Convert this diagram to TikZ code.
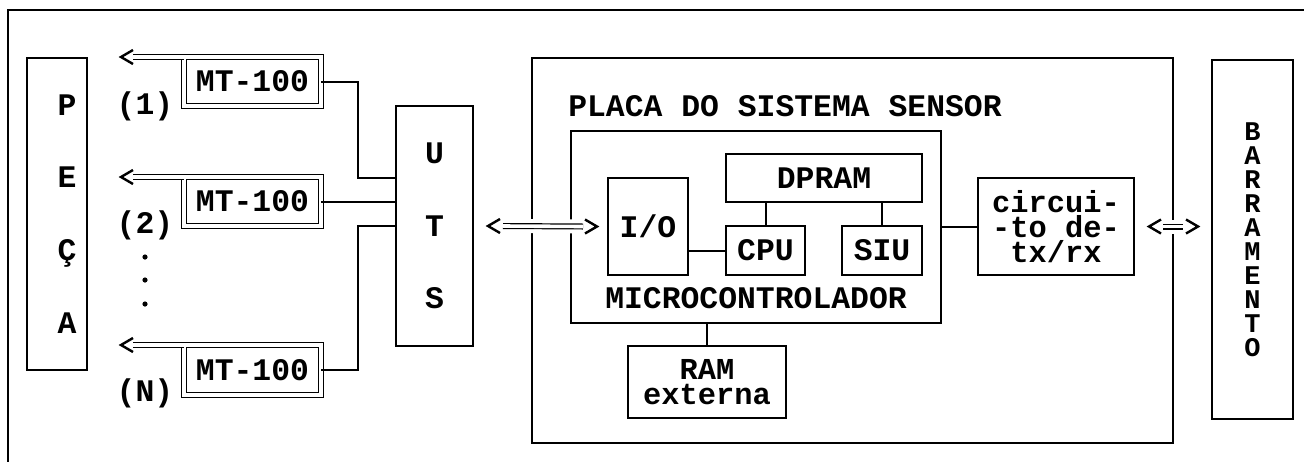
\documentclass[tikz,border=0pt]{standalone}
\usepackage{fontspec}
\setmonofont{Liberation Mono}
\usetikzlibrary{positioning, calc}

\begin{document}
\begin{tikzpicture}[
    x=0.5pt, y=-0.5pt,
    line width=1pt,
    every node/.style={font=\ttfamily\bfseries\fontsize{15.7}{12}\selectfont, inner sep=0pt, outer sep=0pt},
    block/.style={draw, line width=1pt, align=center},
    mtbox/.style={draw, double, double distance=1.8pt, line width=0.6pt, minimum width=68.5pt, minimum height=24.5pt},
    spaced/.style={align=center, font=\ttfamily\bfseries\fontsize{15.7}{36.4}\selectfont},
    narrow/.style={font=\ttfamily\bfseries\fontsize{13.5}{12}\selectfont},
    tight/.style={font=\ttfamily\bfseries\fontsize{15.2}{12.6}\selectfont},
    dotmark/.style={circle, fill, minimum size=2.6pt},
    link/.style={line width=1pt},
    dlink/.style={double, double distance=1.8pt, line width=0.6pt},
    gap/.style={white, line width=7pt},
    ltip/.pic={\draw[line width=1.2pt] (12,-7) -- (0,0) -- (12,7);},
    rtip/.pic={\draw[line width=1.2pt] (-12,-7) -- (0,0) -- (-12,7);},
]
\useasboundingbox (0,0) rectangle (1304,461);

% outer frame (only left and top edges visible)
\draw[line width=1pt] (8,480) -- (8,10) -- (1320,10);

% === Left side: peca and transducers ===
\node[block, minimum width=30pt, minimum height=156pt] (peca) at (57,214) {};
\node[spaced] (pecatxt) at ($(peca.center)+(10,0)$) {P\\E\\Ç\\A};

\node[mtbox] (mt1) at (252.5,81.5) {MT-100};
\node[mtbox] (mt2) at (252.5,201.5) {MT-100};
\node[mtbox, minimum height=25pt] (mtn) at (252.5,370) {MT-100};

\node (n1) at (145,106) {(1)};
\node (n2) at (145,225) {(2)};
\node (nn) at (145,393) {(N)};
\node[dotmark] (dot1) at (145,257) {};
\node[dotmark] (dot2) at (145,280) {};
\node[dotmark] (dot3) at (145,304) {};

% arrows towards the peca
\coordinate (t1) at ($(mt1.north west)+(-51,0)$);
\coordinate (t2) at ($(mt2.north west)+(-51,0)$);
\coordinate (tn) at ($(mtn.north west)+(-51,0)$);
\draw[dlink] (mt1.north west) -- (t1);
\draw[dlink] (mt2.north west) -- (t2);
\draw[dlink] (mtn.north west) -- (tn);
\pic at ($(t1)+(-12,0)$) {ltip};
\pic at ($(t2)+(-12,0)$) {ltip};
\pic at ($(tn)+(-12,0)$) {ltip};

% UTS
\node[block, spaced, minimum width=38.5pt, minimum height=120pt] (uts) at (434.5,226) {U\\T\\S};

\draw[link] (mt1.east) -| ($(uts.west)+(-38,-48)$) -- ($(uts.west)+(0,-48)$);
\draw[link] (mt2.east) -- (mt2.east -| uts.west);
\draw[link] (mtn.east) -| ($(uts.west)+(-38,0)$) -- (uts.west);

% === Placa do sistema sensor ===
\node[block, minimum width=320.5pt, minimum height=192.5pt] (placa) at (852.5,250.5) {};
\node (title) at (785,106) {PLACA DO SISTEMA SENSOR};

\node[block, minimum width=185pt, minimum height=96pt] (micro) at (756,227) {};
\node (microtxt) at (756,298) {MICROCONTROLADOR};

\node[block, minimum width=40pt, minimum height=48.5pt] (io) at (648,226.5) {I/O};
\node[block, minimum width=98pt, minimum height=24pt] (dpram) at (824,178) {DPRAM};
\node[block, minimum width=39.5pt, minimum height=24.5pt] (cpu) at (765.5,250.5) {CPU};
\node[block, minimum width=40pt, minimum height=24.5pt] (siu) at (882,250.5) {SIU};
\node[block, tight, minimum width=79pt, minimum height=36pt] (ram) at (707,382) {RAM\\externa};
\node[block, tight, minimum width=78pt, minimum height=48.5pt] (circ) at (1056,226.5) {circui-\\-to de-\\tx/rx};

\draw[link] (cpu.west) -- (cpu.west -| io.east);
\draw[link] (cpu.north) -- (cpu.north |- dpram.south);
\draw[link] (siu.north) -- (siu.north |- dpram.south);
\draw[link] (ram.north) -- (ram.north |- micro.south);
\draw[link] (circ.west) -- (circ.west -| micro.east);

% UTS <-> I/O
\coordinate (iol) at ($(uts.east)+(30,0)$);
\coordinate (ior) at ($(io.west)+(-25,0)$);
\draw[gap] (iol) -- (ior);
\draw[dlink] (iol) -- (ior);
\pic at ($(iol)+(-15,0)$) {ltip};
\pic at ($(ior)+(14,0)$) {rtip};

% === Barramento ===
\node[block, narrow, minimum width=40.5pt, minimum height=179.5pt] (barr) at (1252.5,239.5) {B\\A\\R\\R\\A\\M\\E\\N\\T\\O};

\coordinate (bl) at ($(circ.east)+(29,0)$);
\coordinate (br) at ($(circ.east -| barr.west)+(-29,0)$);
\draw[gap] (bl) -- (br);
\draw[dlink] (bl) -- (br);
\pic at ($(bl)+(-14,0)$) {ltip};
\pic at ($(br)+(15,0)$) {rtip};

\end{tikzpicture}
\end{document}
